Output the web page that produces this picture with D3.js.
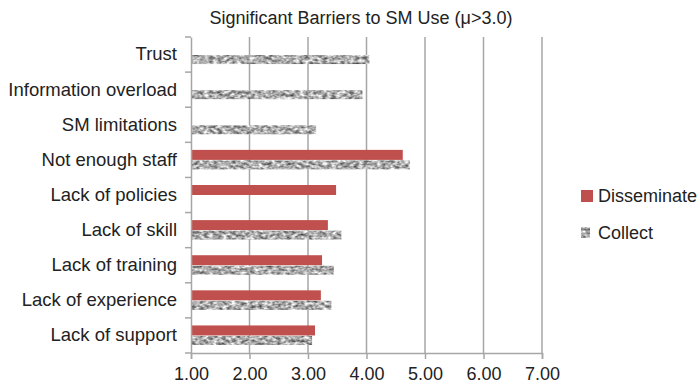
<!DOCTYPE html>
<html><head><meta charset="utf-8">
<script src="https://cdn.jsdelivr.net/npm/d3@7"></script>
<style>body{margin:0;background:#fff}svg{display:block;font-family:"Liberation Sans",Arial,Helvetica,sans-serif}</style>
</head><body><svg id="c" width="700" height="392"></svg>
<script>
const categories = ["Trust","Information overload","SM limitations","Not enough staff","Lack of policies","Lack of skill","Lack of training","Lack of experience","Lack of support"];
const disseminate = [null,null,null,4.62,3.48,3.34,3.24,3.22,3.12];
const collect = [4.05,3.93,3.14,4.74,null,3.57,3.44,3.40,3.07];
const seriesNames = ["Disseminate","Collect"];
const xTicks = [1,2,3,4,5,6,7];
const title = "Significant Barriers to SM Use (\u03bc>3.0)";

const svg = d3.select("#c");
const m = {l:191, r:158, t:37, b:39};
const W = 700, H = 392;
const x = d3.scaleLinear().domain([1,7]).range([m.l, W - m.r]);
const y = d3.scaleBand().domain(categories).range([m.t, H - m.b]);
const bh = 10;

const defs = svg.append("defs");
const f = defs.append("filter").attr("id","tex").attr("x",0).attr("y",0).attr("width",1).attr("height",1)
  .attr("color-interpolation-filters","sRGB");
f.append("feTurbulence").attr("type","fractalNoise").attr("baseFrequency","0.22 0.35").attr("numOctaves",2).attr("seed",7).attr("result","n");
f.append("feColorMatrix").attr("in","n").attr("type","matrix")
 .attr("values","1.15 0 0 0 0.1  1.15 0 0 0 0.1  1.15 0 0 0 0.1  0 0 0 0 1").attr("result","g");
f.append("feGaussianBlur").attr("in","g").attr("stdDeviation",0.6).attr("result","b");
f.append("feComposite").attr("in","b").attr("in2","SourceGraphic").attr("operator","in");

// gridlines
svg.append("g").selectAll("line").data(xTicks.slice(1)).join("line")
  .attr("x1",d=>x(d)).attr("x2",d=>x(d)).attr("y1",m.t).attr("y2",H-m.b)
  .attr("stroke","#a6a6a6").attr("stroke-width",1.5);

// bars
const gb = svg.append("g");
gb.selectAll("rect.d").data(categories.map((c,i)=>({c,v:disseminate[i]})).filter(d=>d.v!=null)).join("rect")
  .attr("class","d").attr("x",x(1)).attr("y",d=>y(d.c)+y.bandwidth()/2-bh)
  .attr("width",d=>x(d.v)-x(1)).attr("height",bh).attr("fill","#c0504d");
gb.selectAll("rect.c").data(categories.map((c,i)=>({c,v:collect[i]})).filter(d=>d.v!=null)).join("rect")
  .attr("class","c").attr("x",x(1)).attr("y",d=>y(d.c)+y.bandwidth()/2+0.5)
  .attr("width",d=>x(d.v)-x(1)).attr("height",bh-1).attr("fill","#999").attr("filter","url(#tex)");

// x axis
const xa = svg.append("g").attr("transform",`translate(0,${H-m.b})`)
  .call(d3.axisBottom(x).tickValues(xTicks).tickFormat(d3.format(".2f")).tickSize(6).tickPadding(8));
xa.select(".domain").attr("stroke","#a6a6a6").attr("stroke-width",1.5);
xa.selectAll(".tick line").attr("stroke","#a6a6a6").attr("stroke-width",1.5);
xa.selectAll("text").attr("font-size",18).attr("fill","#222").attr("font-family","inherit");

// y axis
const ya = svg.append("g").attr("transform",`translate(${m.l},0)`)
  .call(d3.axisLeft(y).tickSize(0).tickPadding(14));
ya.select(".domain").attr("stroke","#a6a6a6").attr("stroke-width",1.5);
ya.selectAll("text").attr("font-size",18.5).attr("fill","#222").attr("font-family","inherit");
// category separator ticks
ya.append("g").selectAll("line").data(categories.concat(["__end"])).join("line")
  .attr("x1",-6).attr("x2",0)
  .attr("y1",(d,i)=>m.t + i*y.step()).attr("y2",(d,i)=>m.t + i*y.step())
  .attr("stroke","#a6a6a6").attr("stroke-width",1.5);

// title
svg.append("text").attr("x",361).attr("y",24).attr("text-anchor","middle")
  .attr("font-size",18).attr("fill","#222").text(title);

// legend
const lg = svg.append("g");
const ly = [196, 233];
lg.selectAll("rect").data(seriesNames).join("rect")
  .attr("x",581).attr("y",(d,i)=>ly[i]-6).attr("width",(d,i)=>i?9:12).attr("height",(d,i)=>i?11:12)
  .attr("fill",(d,i)=>i?"#999":"#c0504d").attr("filter",(d,i)=>i?"url(#tex)":null);
lg.selectAll("text").data(seriesNames).join("text")
  .attr("x",598).attr("y",(d,i)=>ly[i]).attr("dy","0.35em")
  .attr("font-size",18).attr("fill","#222").text(d=>d);
</script></body></html>
